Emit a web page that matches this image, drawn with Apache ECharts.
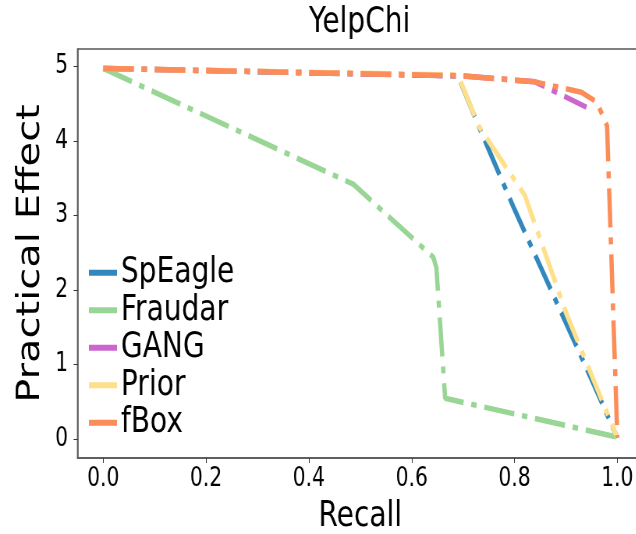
<!DOCTYPE html>
<html>
<head>
<meta charset="utf-8">
<script src="https://cdn.jsdelivr.net/npm/echarts@6/dist/echarts.min.js"></script>
<style>
  html, body { margin: 0; padding: 0; background: #fff; overflow: hidden; }
  #main { width: 840px; height: 534px; transform: scaleX(0.78); transform-origin: 0 0; }
</style>
</head>
<body>
<div id="main"></div>
<script>
// values: [recall, practical effect]
const xTicks = [0, 0.2, 0.4, 0.6, 0.8, 1.0]
const yTicks = [0, 1, 2, 3, 4, 5]
const names = ['SpEagle', 'Fraudar', 'GANG', 'Prior', 'fBox']
const colors = ['#3288bd', '#99d594', '#cc66cc', '#fee08b', '#fc8d59']

const spEagle = [[0, 4.97], [0.69, 4.87], [0.73, 4.2], [0.8, 3.08], [0.9, 1.56], [0.95, 0.8], [1.0, 0.02]]
const fraudar = [[0, 4.97], [0.486, 3.42], [0.642, 2.44], [0.648, 2.3], [0.665, 0.55], [1.0, 0.03]]
const gang = [[0, 4.97], [0.7, 4.87], [0.84, 4.79], [0.94, 4.45]]
const prior = [[0, 4.97], [0.69, 4.88], [0.73, 4.2], [0.82, 3.27], [0.9, 1.7], [1.0, 0.02]]
const fBox = [[0, 4.97], [0.7, 4.87], [0.84, 4.79], [0.93, 4.65], [0.96, 4.52], [0.98, 4.2], [1.0, 0.02]]

const seriesData = [spEagle, fraudar, gang, prior, fBox]
const font = 'DejaVu Sans'

const myChart = echarts.init(document.getElementById('main'))
myChart.setOption({
  animation: false,
  color: colors,
  title: {
    text: 'YelpChi',
    left: 461,
    top: 5,
    padding: 0,
    textAlign: 'center',
    textStyle: { fontFamily: font, fontSize: 36, fontWeight: 'normal', color: '#000' }
  },
  legend: {
    orient: 'vertical',
    left: 109,
    top: 249,
    itemGap: 0,
    itemWidth: 36,
    itemHeight: 6,
    icon: 'rect',
    data: names,
    textStyle: { fontFamily: font, fontSize: 36, lineHeight: 37.5, color: '#000' }
  },
  grid: {
    left: 99.4,
    top: 49,
    width: 725,
    height: 409,
    outerBoundsMode: 'none',
    show: true,
    borderColor: '#555',
    borderWidth: 1.5
  },
  xAxis: {
    type: 'value',
    min: -0.05,
    max: 1.05,
    name: 'Recall',
    nameLocation: 'middle',
    nameGap: 41,
    nameTextStyle: { fontFamily: font, fontSize: 36, color: '#000' },
    splitLine: { show: false },
    axisLine: { onZero: false, lineStyle: { color: '#555', width: 1.5 } },
    axisTick: { customValues: xTicks, length: 5, lineStyle: { color: '#333' } },
    axisLabel: {
      customValues: xTicks,
      margin: 8,
      formatter: v => v.toFixed(1),
      fontFamily: font, fontSize: 26, color: '#000'
    }
  },
  yAxis: {
    type: 'value',
    min: -0.25,
    max: 5.23,
    name: 'Practical Effect',
    nameLocation: 'middle',
    nameGap: 13,
    nameTextStyle: { fontFamily: font, fontSize: 40, color: '#000' },
    splitLine: { show: false },
    axisLine: { show: true, onZero: false, lineStyle: { color: '#555', width: 1.5 } },
    axisTick: { show: true, customValues: yTicks, length: 5, lineStyle: { color: '#333' } },
    axisLabel: {
      customValues: yTicks,
      margin: 12,
      fontFamily: font, fontSize: 26, color: '#000'
    }
  },
  series: names.map((name, i) => ({
    name: name,
    type: 'line',
    data: seriesData[i],
    symbol: 'none',
    lineStyle: { width: 5.5, type: [39, 10, 7, 10], cap: 'butt' }
  }))
})
</script>
</body>
</html>
